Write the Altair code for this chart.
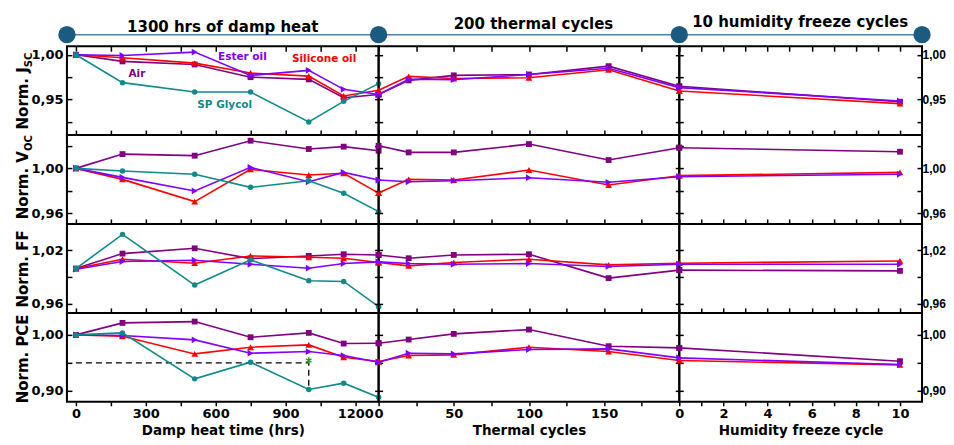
import altair as alt
import pandas as pd

FONT = "DejaVu Sans"

SERIES = ["Air", "Silicone oil", "Ester oil", "SP Glycol"]
SERIES_COLORS = ["#800080", "#ff0000", "#8000ff", "#0e8a8a"]
SERIES_SHAPES = ["square", "triangle-up", "triangle-right", "circle"]
SERIES_SIZES = [34, 46, 46, 30]

# x positions of the measurements in each stage
DH_X = [0, 200, 510, 750, 1000, 1150, 1300]
TC_X = [0, 20, 50, 100, 153, 200]
HF_X = [0, 10]

DH_TICKS = [0, 150, 300, 450, 600, 750, 900, 1050, 1200]
TC_TICKS = [0, 25, 50, 75, 100, 125, 150, 175]
HF_TICKS = [0, 1, 2, 3, 4, 5, 6, 7, 8, 9, 10]

# ---- Norm. Jsc ----
JSC_DH = {
    "Air":          [1.000, 0.9926, 0.9892, 0.9750, 0.9725, 0.9520, 0.9556],
    "Silicone oil": [1.000, 0.9967, 0.9907, 0.9796, 0.9762, 0.9540, 0.9603],
    "Ester oil":    [1.000, 0.9992, 1.0030, 0.9770, 0.9826, 0.9614, 0.9556],
    "SP Glycol":    [1.000, 0.9689, 0.9584, 0.9584, 0.9250, 0.9480, 0.9678],
}
JSC_TC = {
    "Air":          [0.9556, 0.9714, 0.9770, 0.9780, 0.9873, 0.9648],
    "Silicone oil": [0.9603, 0.9759, 0.9735, 0.9744, 0.9833, 0.9596],
    "Ester oil":    [0.9556, 0.9726, 0.9722, 0.9780, 0.9850, 0.9633],
}
JSC_HF = {
    "Air":          [0.9648, 0.9475],
    "Silicone oil": [0.9596, 0.9455],
    "Ester oil":    [0.9633, 0.9484],
}

# ---- Norm. Voc ----
VOC_DH = {
    "Air":          [1.000, 1.0127, 1.0113, 1.0246, 1.0172, 1.0193, 1.0157],
    "Silicone oil": [1.000, 0.9902, 0.9704, 0.9991, 0.9941, 0.9956, 0.9780],
    "Ester oil":    [1.000, 0.9920, 0.9799, 1.0009, 0.9881, 0.9964, 0.9896],
    "SP Glycol":    [1.000, 0.9976, 0.9947, 0.9831, 0.9890, 0.9778, 0.9615],
}
VOC_TC = {
    "Air":          [1.0201, 1.0142, 1.0142, 1.0216, 1.0074, 1.0184],
    "Silicone oil": [0.9780, 0.9902, 0.9896, 0.9985, 0.9852, 0.9935],
    "Ester oil":    [0.9896, 0.9881, 0.9890, 0.9917, 0.9876, 0.9926],
}
VOC_HF = {
    "Air":          [1.0184, 1.0148],
    "Silicone oil": [0.9935, 0.9964],
    "Ester oil":    [0.9926, 0.9947],
}

# ---- Norm. FF ----
FF_DH = {
    "Air":          [0.9996, 1.0163, 1.0222, 1.0107, 1.0137, 1.0156, 1.0148],
    "Silicone oil": [0.9996, 1.0100, 1.0056, 1.0137, 1.0122, 1.0111, 1.0063],
    "Ester oil":    [0.9989, 1.0074, 1.0089, 1.0044, 1.0000, 1.0052, 1.0070],
    "SP Glycol":    [0.9996, 1.0378, 0.9811, 1.0093, 0.9859, 0.9852, 0.9570],
}
FF_TC = {
    "Air":          [1.0148, 1.0111, 1.0148, 1.0156, 0.9889, 0.9978],
    "Silicone oil": [1.0063, 1.0026, 1.0063, 1.0100, 1.0037, 1.0056],
    "Ester oil":    [1.0070, 1.0052, 1.0044, 1.0052, 1.0019, 1.0044],
}
FF_HF = {
    "Air":          [0.9978, 0.9970],
    "Silicone oil": [1.0056, 1.0081],
    "Ester oil":    [1.0044, 1.0044],
}

# ---- Norm. PCE ----
PCE_DH = {
    "Air":          [1.000, 1.0214, 1.0238, 0.9958, 1.0036, 0.9845, 0.9851],
    "Silicone oil": [1.000, 0.9976, 0.9660, 0.9780, 0.9821, 0.9601, 0.9524],
    "Ester oil":    [1.000, 0.9988, 0.9911, 0.9673, 0.9702, 0.9631, 0.9512],
    "SP Glycol":    [1.000, 1.0036, 0.9214, 0.9512, 0.9024, 0.9137, 0.8887],
}
PCE_TC = {
    "Air":          [0.9851, 0.9917, 1.0018, 1.0095, 0.9798, 0.9768],
    "Silicone oil": [0.9524, 0.9631, 0.9643, 0.9780, 0.9702, 0.9542],
    "Ester oil":    [0.9512, 0.9673, 0.9660, 0.9738, 0.9750, 0.9589],
}
PCE_HF = {
    "Air":          [0.9768, 0.9530],
    "Silicone oil": [0.9542, 0.9464],
    "Ester oil":    [0.9589, 0.9470],
}

METRIC_DATA = [
    [JSC_DH, JSC_TC, JSC_HF],
    [VOC_DH, VOC_TC, VOC_HF],
    [FF_DH, FF_TC, FF_HF],
    [PCE_DH, PCE_TC, PCE_HF],
]
METRIC_DOMAINS = [[0.9103, 1.0096], [0.9505, 1.0296], [0.9500, 1.0494], [0.8804, 1.0393]]
METRIC_TICKS = [[0.925, 0.95, 0.975, 1.0], [0.96, 0.98, 1.0, 1.02], [0.96, 0.99, 1.02], [0.90, 0.95, 1.0]]
METRIC_LABELS = [[0.95, 1.0], [0.96, 1.0], [0.96, 1.02], [0.90, 1.0]]
METRIC_TITLE_MAIN = ["Norm. J", "Norm. V", "Norm. FF", "Norm. PCE"]
METRIC_TITLE_SUB = ["SC", "OC", "", ""]

STAGE_X = [DH_X, TC_X, HF_X]
STAGE_TICKS = [DH_TICKS, TC_TICKS, HF_TICKS]
STAGE_DOMAINS = [[-38.6, 1300], [0, 200], [0, 11]]
STAGE_MAJOR = [300, 50, 2]
STAGE_TITLES = ["Damp heat time (hrs)", "Thermal cycles", "Humidity freeze cycle"]
STAGE_HEADERS = ["1300 hrs of damp heat", "200 thermal cycles", "10 humidity freeze cycles"]

# annotations (Jsc damp heat panel)
ANNOT_TEXT = ["Air", "Silicone oil", "Ester oil", "SP Glycol"]
ANNOT_X = [262, 1066, 715, 639]
ANNOT_Y = [0.978, 0.9948, 0.998, 0.9437]

# dashed guide line and star (PCE damp heat panel)
DASH_X = [0, 1000, 1000]
DASH_Y = [0.95, 0.95, 0.904]
STAR_X = [1000]
STAR_Y = [0.9542]

# layout (pixels)
STAGE_WIDTHS = [312, 301, 243]
ROW_H = 89
HEADER_X = [156, 155, 121]
HEADER_BASE = [-14.7, -17.7, -19.7]
HEADER_Y = -11.5
TITLE_Y = [21, 16, 45, 46]

HEADER_LINE = "#4f83a3"
HEADER_DOT = "#1b5b80"

ONE = pd.DataFrame({"k": [0]})


def make_df(xs, vals):
    return pd.DataFrame({"x": xs[: len(vals)], "y": vals})


def label_expr(vals):
    cond = " || ".join(f"abs(datum.value - {v}) < 1e-6" for v in vals)
    return f"({cond}) ? replace(format(datum.value, '.2f'), '.', ',') : ''"


def holder(df, xs, ys, xaxis=None, yaxis=None):
    return alt.Chart(df).mark_point(opacity=0).encode(
        x=alt.X("x:Q", scale=xs, axis=xaxis),
        y=alt.Y("y:Q", scale=ys, axis=yaxis),
    )


def panel(mi, si):
    W = STAGE_WIDTHS[si]
    data = METRIC_DATA[mi][si]
    xs_list = STAGE_X[si]
    xs = alt.Scale(domain=STAGE_DOMAINS[si], nice=False, zero=False)
    ys = alt.Scale(domain=METRIC_DOMAINS[mi], nice=False, zero=False)
    ticks = STAGE_TICKS[si]
    yt = METRIC_TICKS[mi]
    base_df = make_df(xs_list, list(data.values())[0])

    layers = []
    # bottom x axis
    if mi == 3:
        xb = alt.Axis(orient="bottom", values=ticks, format="d",
                      labelExpr=f"datum.value % {STAGE_MAJOR[si]} === 0 ? datum.label : ''",
                      title=STAGE_TITLES[si], tickSize=4, labelPadding=2,
                      labelFlush=False, labelOverlap=False, titlePadding=3)
    else:
        xb = alt.Axis(orient="bottom", values=ticks, labels=False, title=None,
                      tickSize=5, offset=-5)
    layers.append(holder(base_df, xs, ys, xaxis=xb))
    if mi == 0:
        xt = alt.Axis(orient="top", values=ticks, labels=False, title=None,
                      tickSize=5, offset=-5)
        layers.append(holder(base_df, xs, ys, xaxis=xt))
    # left y axis
    if si == 0:
        yl = alt.Axis(orient="left", values=yt, labelExpr=label_expr(METRIC_LABELS[mi]),
                      title=None, tickSize=5, offset=-5, labelPadding=4, labelOverlap=False)
    else:
        yl = alt.Axis(orient="left", values=yt, labels=False, title=None,
                      tickSize=8, offset=-4)
    layers.append(holder(base_df, xs, ys, yaxis=yl))
    if si == 2:
        yr = alt.Axis(orient="right", values=yt, labelExpr=label_expr(METRIC_LABELS[mi]),
                      title=None, tickSize=5, offset=-5, labelPadding=0, labelOverlap=False,
                      labelFont="Liberation Sans", labelFontSize=12)
        layers.append(holder(base_df, xs, ys, yaxis=yr))

    # extras drawn under the data
    if mi == 3 and si == 0:
        dash_df = pd.DataFrame({"x": DASH_X, "y": DASH_Y, "i": list(range(len(DASH_X)))})
        layers.append(
            alt.Chart(dash_df).mark_line(color="black", strokeWidth=1.3, strokeDash=[6, 4]).encode(
                x=alt.X("x:Q", scale=xs, axis=None),
                y=alt.Y("y:Q", scale=ys, axis=None),
                order="i:Q",
            )
        )

    # data series
    for s, c, shp, sz in zip(SERIES, SERIES_COLORS, SERIES_SHAPES, SERIES_SIZES):
        if s not in data:
            continue
        df = make_df(xs_list, data[s])
        enc = dict(x=alt.X("x:Q", scale=xs, axis=None), y=alt.Y("y:Q", scale=ys, axis=None))
        layers.append(alt.Chart(df).mark_line(color=c, strokeWidth=1.6).encode(**enc))
        layers.append(
            alt.Chart(df).mark_point(shape=shp, filled=True, color=c, opacity=1, size=sz).encode(**enc)
        )

    if mi == 3 and si == 0:
        star_df = pd.DataFrame({"x": STAR_X, "y": STAR_Y})
        layers.append(
            alt.Chart(star_df).mark_point(
                shape="M0,-1L0,1M-0.87,-0.5L0.87,0.5M-0.87,0.5L0.87,-0.5",
                filled=False, color="#2a9d2a", strokeWidth=1.5, size=40, opacity=1,
            ).encode(x=alt.X("x:Q", scale=xs, axis=None), y=alt.Y("y:Q", scale=ys, axis=None))
        )

    if mi == 0 and si == 0:
        ann_df = pd.DataFrame({"x": ANNOT_X, "y": ANNOT_Y, "t": ANNOT_TEXT})
        layers.append(
            alt.Chart(ann_df).mark_text(font=FONT, fontSize=10.5, fontWeight="bold",
                                        baseline="middle", align="center").encode(
                x=alt.X("x:Q", scale=xs, axis=None),
                y=alt.Y("y:Q", scale=ys, axis=None),
                text="t:N",
                color=alt.Color("t:N", scale=alt.Scale(domain=SERIES, range=SERIES_COLORS), legend=None),
            )
        )

    # y-axis titles
    if si == 0:
        main = METRIC_TITLE_MAIN[mi]
        sub = METRIC_TITLE_SUB[mi]
        if sub:
            layers.append(alt.Chart(ONE).mark_text(
                text=main, angle=270, align="right", baseline="alphabetic",
                font=FONT, fontSize=15, fontWeight="bold", color="black",
            ).encode(x=alt.value(-39), y=alt.value(TITLE_Y[mi])))
            layers.append(alt.Chart(ONE).mark_text(
                text=sub, angle=270, align="left", baseline="alphabetic", dy=4,
                font=FONT, fontSize=10, fontWeight="bold", color="black",
            ).encode(x=alt.value(-39), y=alt.value(TITLE_Y[mi])))
        else:
            layers.append(alt.Chart(ONE).mark_text(
                text=main, angle=270, align="center", baseline="alphabetic",
                font=FONT, fontSize=15, fontWeight="bold", color="black",
            ).encode(x=alt.value(-39), y=alt.value(TITLE_Y[mi])))

    # header above the first row
    if mi == 0:
        layers.append(alt.Chart(ONE).mark_rule(color=HEADER_LINE, strokeWidth=1.6).encode(
            x=alt.value(0), x2=alt.value(W), y=alt.value(HEADER_Y)))
        layers.append(alt.Chart(ONE).mark_circle(color=HEADER_DOT, size=300, opacity=1).encode(
            x=alt.value(0), y=alt.value(HEADER_Y)))
        if si == 2:
            layers.append(alt.Chart(ONE).mark_circle(color=HEADER_DOT, size=300, opacity=1).encode(
                x=alt.value(W), y=alt.value(HEADER_Y)))
        layers.append(alt.Chart(ONE).mark_text(
            text=STAGE_HEADERS[si], align="center", baseline="alphabetic",
            font=FONT, fontSize=15, fontWeight="bold", color="black",
        ).encode(x=alt.value(HEADER_X[si]), y=alt.value(HEADER_BASE[si])))

    return alt.layer(*layers).resolve_axis(x="independent", y="independent").properties(
        width=W, height=ROW_H
    )


panels = [panel(mi, si) for mi in range(4) for si in range(3)]

chart = alt.concat(*panels, columns=3, spacing=0, bounds="flush").properties(
    padding={"left": 7, "top": 5, "right": -1, "bottom": -1}
).configure(font=FONT).configure_view(
    stroke="black", strokeWidth=2
).configure_axis(
    labelFont=FONT, labelFontSize=13, labelFontWeight="bold", labelColor="black",
    titleFont=FONT, titleFontSize=13.5, titleFontWeight="bold", titleColor="black",
    tickColor="black", tickWidth=1.5, grid=False, domain=False,
)

chart.save("out.html", embed_options={"renderer": "svg", "actions": False})
